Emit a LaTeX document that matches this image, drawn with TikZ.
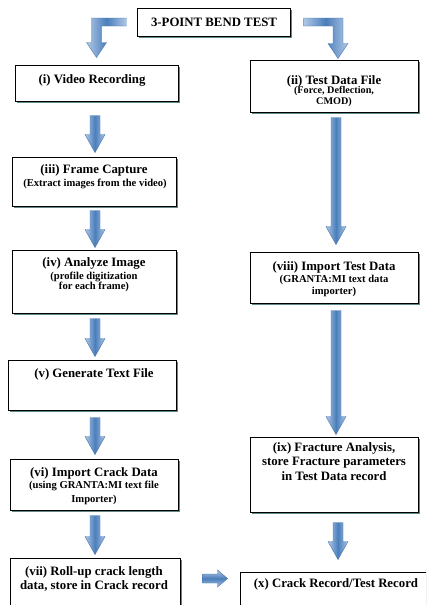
\documentclass[tikz,border=0pt]{standalone}
\usepackage{fontspec}
\setmainfont{Liberation Serif}
\usetikzlibrary{calc,fit,shadows}
\definecolor{adark}{HTML}{4A7EBB}
\definecolor{alight}{HTML}{B0C8E6}
\definecolor{aline}{HTML}{4472AA}
\definecolor{shadowc}{HTML}{5E8A8C}
\tikzset{
 boxn/.style={draw=black, line width=1pt, fill=white, inner sep=0pt,
   drop shadow={shadow xshift=1.6pt, shadow yshift=-1.6pt, fill=shadowc, opacity=1}},
 ttl/.style={font=\bfseries\fontsize{12.8}{14.5}\selectfont, align=center, inner sep=0pt},
 sub/.style={font=\bfseries\fontsize{10.6}{11}\selectfont, align=center, inner sep=0pt},
 varrow/.style={draw=aline, line width=0.4pt, left color=alight, right color=alight, middle color=adark},
 harrow/.style={draw=aline, line width=0.4pt, top color=alight, bottom color=alight, middle color=adark},
}
% vertical block arrow: from node #1 (south) to node #2 (north), at x=#3, gaps #4 and #5
\newcommand\varr[5]{%
 \shadedraw[varrow] let \p1=($(#1.south)+(0,#4)$), \p2=($(#2.north)+(0,-#5)$) in
 (#3pt-5pt,\y1) -- (#3pt+5pt,\y1) -- (#3pt+5pt,\y2+18pt) -- (#3pt+10pt,\y2+18pt)
 -- (#3pt,\y2) -- (#3pt-10pt,\y2+18pt) -- (#3pt-5pt,\y2+18pt) -- cycle;}
\begin{document}
\begin{tikzpicture}[x=1pt,y=-1pt]
\clip (0,0) rectangle (426,605);
\fill[white] (0,0) rectangle (426,605);
% boxes
\node[boxn, fit={(137,8) (290,36)}] (top) {};
\node[boxn, fit={(15,65) (178,101)}] (bi) {};
\node[boxn, fit={(250,60) (418,112)}] (bii) {};
\node[boxn, fit={(12,157) (176,206)}] (biii) {};
\node[boxn, fit={(12,250) (176,313)}] (biv) {};
\node[boxn, fit={(8,360) (176,410)}] (bv) {};
\node[boxn, fit={(10,459) (178,510)}] (bvi) {};
\node[boxn, fit={(10,558) (180,640)}] (bvii) {};
\node[boxn, fit={(250,252) (418,303)}] (bviii) {};
\node[boxn, fit={(250,437) (418,512)}] (bix) {};
\node[boxn, fit={(240,572) (450,640)}] (bx) {};
% texts
\node[ttl] (ttop) at (214,22) {3-POINT BEND TEST};
\node[ttl] (ti) at (92,80) {(i) Video Recording};
\node[ttl] (tii) at (334,81) {(ii) Test Data File};
\node[sub, font=\bfseries\fontsize{10.2}{10.3}\selectfont] (sii) at (334,96.5) {(Force, Deflection,\\CMOD)};
\node[ttl] (tiii) at (94,170) {(iii) Frame Capture};
\node[sub] (siii) at (95,184) {(Extract images from the video)};
\node[ttl] (tiv) at (94,263) {(iv) Analyze Image};
\node[sub, font=\bfseries\fontsize{10.6}{10.2}\selectfont] (siv) at (94,282) {(profile digitization\\for each frame)};
\node[ttl] (tv) at (94,374) {(v) Generate Text File};
\node[ttl] (tvi) at (94,473) {(vi) Import Crack Data};
\node[sub, font=\bfseries\fontsize{10.6}{13.5}\selectfont] (svi) at (94,493) {(using GRANTA:MI text file\\Importer)};
\node[ttl, font=\bfseries\fontsize{12.8}{14}\selectfont] (tvii) at (94,579) {(vii) Roll-up crack length\\data, store in Crack record};
\node[ttl] (tviii) at (334,267) {(viii) Import Test Data};
\node[sub, font=\bfseries\fontsize{10.6}{12}\selectfont] (sviii) at (334,285.5) {(GRANTA:MI text data\\importer)};
\node[ttl] (tix) at (334,461.5) {(ix) Fracture Analysis,\\store Fracture parameters\\in Test Data record};
\node[ttl] (tx) at (336,584) {(x) Crack Record/Test Record};
% bent arrows from the top box
\shadedraw[varrow] let \p1=($(top.west)+(-10,0)$), \p2=($(bi.north)+(0,-7)$) in
 (\x1,\y1+4pt) -- (\x2-5pt,\y1+4pt) -- (\x2-5pt,\y2+15pt) -- (\x2-10pt,\y2+15pt)
 -- (\x2,\y2) -- (\x2+10pt,\y2+15pt) -- (\x2+5pt,\y2+15pt) -- (\x2+5pt,\y1-4pt)
 -- (\x1,\y1-4pt) -- cycle;
\shadedraw[varrow] let \p1=($(top.east)+(13,0)$), \p2=($(bii.north)+(4,-1)$) in
 (\x1,\y1+4pt) -- (\x2+5pt,\y1+4pt) -- (\x2+5pt,\y2+15pt) -- (\x2+10pt,\y2+15pt)
 -- (\x2,\y2) -- (\x2-10pt,\y2+15pt) -- (\x2-5pt,\y2+15pt) -- (\x2-5pt,\y1-4pt)
 -- (\x1,\y1-4pt) -- cycle;
% vertical arrows
\varr{bi}{biii}{95}{14}{4}
\varr{biii}{biv}{95}{4}{2}
\varr{biv}{bv}{95}{5}{3}
\varr{bv}{bvi}{95}{7}{4}
\varr{bvi}{bvii}{95}{5}{3}
\varr{bii}{bviii}{336}{5}{7}
\varr{bviii}{bix}{336}{7}{2}
\varr{bix}{bx}{338}{10}{12}
% horizontal arrow (vii) -> (x)
\shadedraw[harrow] let \p1=($(bvii.north east)+(22,0)$), \p2=($(bx.north west)+(-12,7)$) in
 (\x1,\y2+4.5pt) -- (\x2-10pt,\y2+4.5pt) -- (\x2-10pt,\y2+8.5pt) -- (\x2,\y2)
 -- (\x2-10pt,\y2-8.5pt) -- (\x2-10pt,\y2-4.5pt) -- (\x1,\y2-4.5pt) -- cycle;
\end{tikzpicture}
\end{document}
